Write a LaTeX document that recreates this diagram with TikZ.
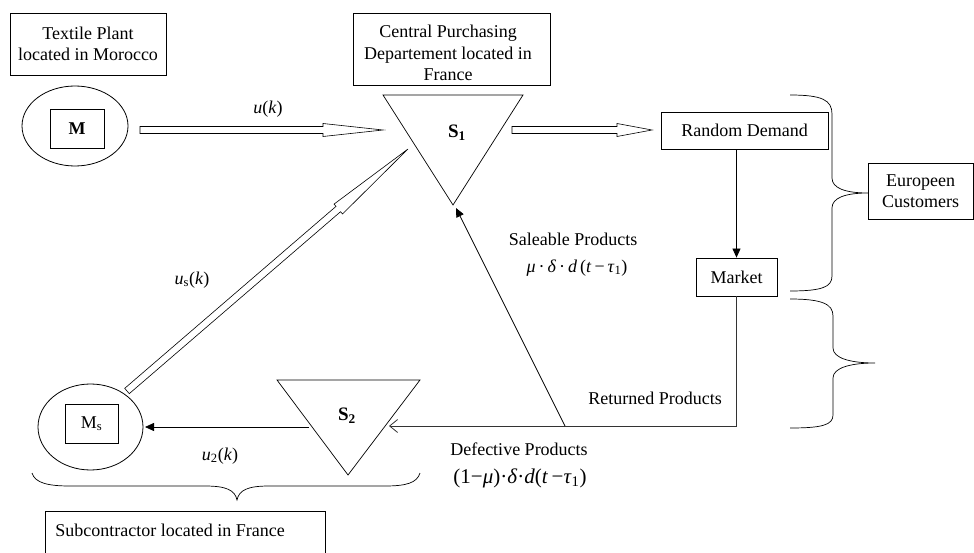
\documentclass[tikz,border=0pt]{standalone}
\usepackage{fontspec}
\setmainfont{Liberation Serif}
\usetikzlibrary{calc,arrows.meta}
\newcommand\hollowarrow[4]{%
  \coordinate (#4h) at ($(#2)!#3!(#1)$);
  \draw[hollow] ($(#1)!3.5pt!-90:(#2)$) -- ($(#4h)!3.5pt!90:(#1)$) -- ($(#4h)!6.5pt!90:(#1)$) -- (#2)
    -- ($(#4h)!6.5pt!-90:(#1)$) -- ($(#4h)!3.5pt!-90:(#1)$) -- ($(#1)!3.5pt!90:(#2)$) -- cycle;}
\begin{document}
\begin{tikzpicture}[x=1pt,y=-1pt,line width=0.8pt,
  txt/.style={font=\fontsize{18}{21.5}\selectfont,inner sep=0pt,align=center},
  box/.style={draw,rectangle,inner sep=0pt,align=center,font=\fontsize{18}{21.5}\selectfont},
  hollow/.style={draw,line width=0.6pt,fill=white,line join=miter},
  solidarrow/.style={-{Triangle[length=9pt,width=8pt]}},
  openarrow/.style={-{Straight Barb[length=8pt,width=13pt]}},
  brace/.style={draw,line width=0.7pt},
  tri/.style={draw,line width=0.7pt,line join=miter}]
\useasboundingbox (0,0) rectangle (974,553);
\clip (0,0) rectangle (974,553);

% boxes
\node[box,minimum width=156pt,minimum height=62pt] (textile) at (88,44) {Textile Plant\\located in Morocco};
\node[box,minimum width=197pt,minimum height=72pt] (central) at (451.5,49) {};
\node[txt] (centraltxt) at (448,53) {Central Purchasing\\Departement located in\\France};
\node[box,minimum width=167pt,minimum height=37pt] (rd) at (744.5,130.5) {Random Demand};
\node[box,minimum width=81pt,minimum height=38pt] (market) at (736.5,277) {Market};
\node[box,minimum width=105pt,minimum height=56pt] (euro) at (920.5,191) {Europeen\\Customers};
\draw (45,565) coordinate (subBL) -- (45,511) -- (325,511) -- (325,565);
\node[txt,anchor=west] (sub) at (55,530) {Subcontractor located in France};

% M ellipse
\draw (75,126) ellipse [x radius=53, y radius=40];
\coordinate (Mell) at (75,126);
\node[box,minimum width=54pt,minimum height=39pt,font=\fontsize{18}{21}\selectfont\bfseries] (M) at (77,128.5) {M};
% Ms ellipse
\draw (90.5,427) ellipse [x radius=52.5, y radius=43];
\coordinate (Msell) at (90.5,427);
\coordinate (MsE) at (145,427);
\node[box,minimum width=53pt,minimum height=39pt] (Ms) at (91.5,423.5) {M\textsubscript{s}};

% triangles
\coordinate (S1a) at (383,95); \coordinate (S1b) at (523,95); \coordinate (S1c) at (453,205);
\draw[tri] (S1a) -- (S1b) -- (S1c) -- cycle;
\node[txt,font=\fontsize{19}{21}\selectfont\bfseries] (S1) at (457,133) {S\textsubscript{1}};
\coordinate (S2a) at (277,380); \coordinate (S2b) at (420,380); \coordinate (S2c) at (348,475);
\draw[tri] (S2a) -- (S2b) -- (S2c) -- cycle;
\node[txt,font=\fontsize{19}{21}\selectfont\bfseries] (S2) at (347,416) {S\textsubscript{2}};

% hollow arrows
\coordinate (ukA) at (140,130); \coordinate (ukB) at (383,130);
\hollowarrow{ukA}{ukB}{60pt}{uk}
\coordinate (rdA) at (512,130); \coordinate (rdB) at (652,130);
\hollowarrow{rdA}{rdB}{35pt}{rda}
\coordinate (usA) at (127,391); \coordinate (usB) at (408,149);
\hollowarrow{usA}{usB}{92pt}{us}

% solid connectors
\draw[solidarrow] (rd.south -| market.north) -- (market.north);
\coordinate (corner) at (market.south |- 0,426);
\coordinate (junction) at (565,426);
\coordinate (S2in) at (389,426);
\draw[openarrow,draw=black!80] (market.south) -- (corner) -- (S2in);
\draw[solidarrow] (junction) -- (456,208) coordinate (S1in);
\coordinate (S2out) at (309,427);
\draw[solidarrow] (S2out) -- (MsE);

% braces
\draw[brace] (790,95) .. controls (822,95) and (832,100) .. (832,114) -- (832,178)
  .. controls (832,188) and (845,193) .. (868,193) .. controls (845,193) and (832,198) .. (832,208)
  -- (832,276) .. controls (832,287) and (822,291) .. (790,291);
\draw[brace] (790,299) .. controls (822,299) and (833,304) .. (833,316) -- (833,348)
  .. controls (833,358) and (850,363) .. (875,363) .. controls (850,363) and (833,368) .. (833,378)
  -- (833,415) .. controls (833,425) and (822,428) .. (790,428);
\draw[brace] (32,473) .. controls (35,483) and (48,486) .. (70,486) -- (205,486)
  .. controls (226,486) and (235,490) .. (237,500) .. controls (239,490) and (248,486) .. (269,486)
  -- (385,486) .. controls (406,486) and (417,483) .. (420,473);

% labels
\node[txt] (uk) at (268,109) {\textit{u}(\textit{k})};
\node[txt] (usl) at (192,280) {\textit{u}\textsubscript{s}(\textit{k})};
\node[txt] (u2l) at (220,456) {\textit{u}\textsubscript{2}(\textit{k})};
\node[txt] (sale) at (573,239) {Saleable Products};
\node[txt] (salef) at (577,268) {\textit{μ}\,·\,\textit{δ}\,·\,\textit{d}\,(\textit{t}\,−\,\textit{τ}\textsubscript{1})};
\node[txt] (ret) at (655,398) {Returned Products};
\node[txt] (def) at (519,449) {Defective Products};
\node[txt,font=\fontsize{21}{24}\selectfont] (deff) at (520,478) {(1−\textit{μ})·\textit{δ}·\textit{d}(\textit{t}\,−\textit{τ}\textsubscript{1})};
\end{tikzpicture}
\end{document}
